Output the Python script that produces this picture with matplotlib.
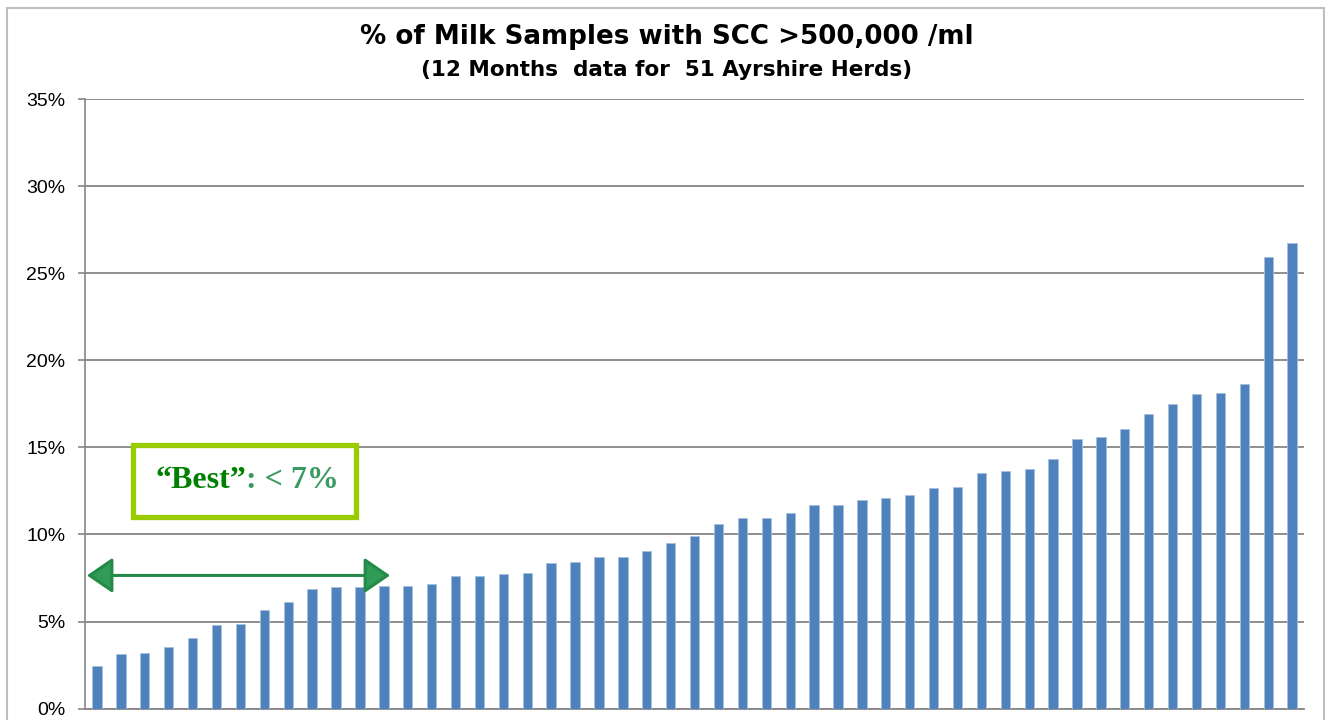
import matplotlib
matplotlib.use("Agg")
import matplotlib.pyplot as plt
from matplotlib.patches import Rectangle, FancyArrowPatch
from matplotlib.ticker import FuncFormatter

# % of milk samples with SCC > 500,000 /ml, one value per herd (sorted)
herd_pct = [2.44, 3.13, 3.19, 3.57, 4.06, 4.81, 4.87, 5.69, 6.11, 6.85,
            6.98, 6.98, 7.06, 7.06, 7.18, 7.61, 7.61, 7.73, 7.81, 8.36,
            8.44, 8.68, 8.68, 9.04, 9.54, 9.93, 10.61, 10.92, 10.92, 11.24,
            11.72, 11.72, 11.96, 12.10, 12.29, 12.67, 12.73, 13.53, 13.66, 13.78,
            14.33, 15.46, 15.59, 16.08, 16.91, 17.47, 18.07, 18.13, 18.63, 25.93,
            26.73]
herds = list(range(len(herd_pct)))
y_ticks = [0, 5, 10, 15, 20, 25, 30, 35]

title = "% of Milk Samples with SCC >500,000 /ml"
subtitle = "(12 Months  data for  51 Ayrshire Herds)"


def main():
    grey = "#868686"
    fig = plt.figure(figsize=(13.25, 7.2), dpi=100)
    ax = fig.add_axes([0.0642, 0.0157, 0.92, 0.8468])

    ax.bar(herds, herd_pct, width=0.39, color="#4F81BD",
           edgecolor="#A7C0DE", linewidth=0.6, zorder=3)

    ax.set_xlim(-0.5, len(herd_pct) - 0.5)
    ax.set_ylim(0, 35)
    ax.set_yticks(y_ticks)
    ax.yaxis.set_major_formatter(FuncFormatter(lambda v, p: "%d%%" % v))
    ax.set_xticks([])
    ax.grid(axis="y", color=grey, linewidth=1.3, zorder=0)
    ax.tick_params(axis="y", direction="out", length=5, width=1.2,
                   color=grey, pad=9, labelsize=14)
    for lab in ax.get_yticklabels():
        lab.set_family("Liberation Sans")
    ax.spines["top"].set_visible(False)
    ax.spines["right"].set_visible(False)
    ax.spines["left"].set_color(grey)
    ax.spines["bottom"].set_color(grey)
    ax.spines["left"].set_linewidth(1.2)
    ax.spines["bottom"].set_linewidth(1.3)

    # "Best" box and arrow
    box = Rectangle((1.49, 11.0), 10.82 - 1.49, 15.12 - 11.0,
                    fill=False, edgecolor="#99CC00", linewidth=3.8, zorder=5)
    ax.add_patch(box)
    t1 = ax.text(2.43, 13.1, "\u201cBest\u201d", color="#008000", fontsize=23,
                 fontweight="bold", family="Liberation Serif", va="center", zorder=6)
    ax.annotate(": < 7%", xy=(1, 0.5), xycoords=t1, va="center", ha="left",
                color="#3A9A60", fontsize=23, fontweight="bold",
                family="Liberation Serif", zorder=6)

    arrow = FancyArrowPatch((-0.42, 7.65), (12.26, 7.65),
                            arrowstyle="<|-|>,head_length=0.8,head_width=0.55",
                            mutation_scale=20, shrinkA=0, shrinkB=0,
                            facecolor="#319B58", edgecolor="#238A48",
                            linewidth=2.2, zorder=6)
    ax.add_patch(arrow)

    # chart border
    fig.patches.append(Rectangle((7 / 1325, -0.01), 1317 / 1325, 1 - 8 / 720 + 0.01,
                                 transform=fig.transFigure, fill=False,
                                 edgecolor="#BFBFBF", linewidth=1.5))

    fig.text(0.503, 0.9486, title, ha="center", va="center", fontsize=18.8,
             fontweight="bold", family=["DejaVu Sans"])
    fig.text(0.503, 0.903, subtitle, ha="center", va="center", fontsize=15.5,
             fontweight="bold", family=["DejaVu Sans"])

    plt.savefig("out.png")


if __name__ == "__main__":
    main()
